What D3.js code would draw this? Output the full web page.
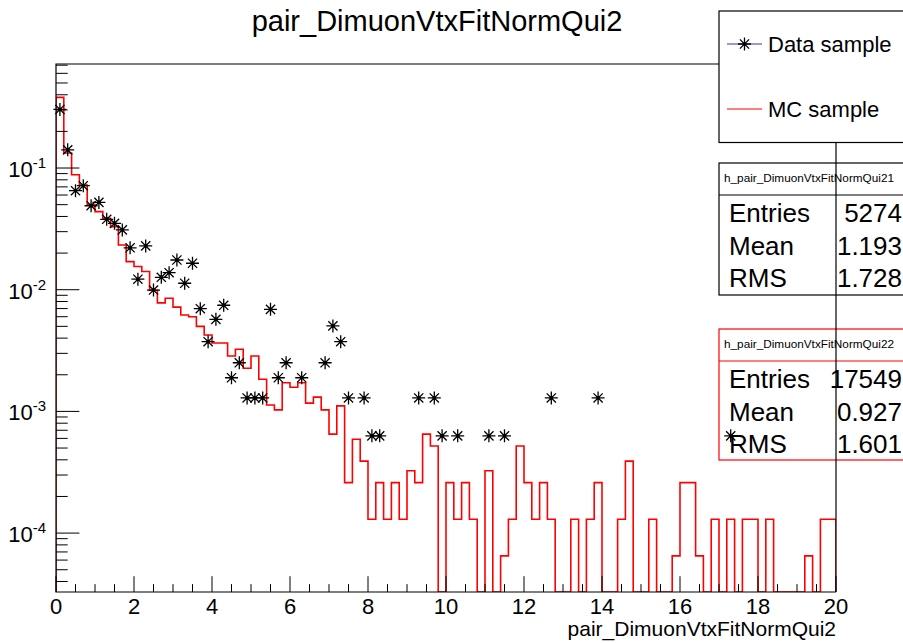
<!DOCTYPE html>
<html>
<meta charset="utf-8">
<head>
<script src="https://cdnjs.cloudflare.com/ajax/libs/d3/7.8.5/d3.min.js"></script>
</head>
<style>
body { margin: 0; background: #fff; }
svg text { font-family: "Liberation Sans", Arial, sans-serif; fill: #000; }
.frame { fill: none; stroke: #000; stroke-width: 1.2px; }
.tick line { stroke: #000; stroke-width: 1px; }
</style>
<body>
<svg id="canvas" width="903" height="643"></svg>
<script>
// histogram name / axis title
const histName = "pair_DimuonVtxFitNormQui2";
const xDomain = [0, 20];
const binWidth = 0.2;

// MC sample, 100 bins of 0.2 (normalised)
const mcValues = [
  0.381, 0.133, 0.088, 0.0725, 0.050, 0.0438, 0.0386, 0.033, 0.0233, 0.017,
  0.0155, 0.0141, 0.0099, 0.0078, 0.0085, 0.0072, 0.0062, 0.0060, 0.0050, 0.00425,
  0.00365, 0.00365, 0.00285, 0.00324, 0.00226, 0.00285, 0.00184, 0.00113, 0.00103, 0.00172,
  0.00158, 0.00172, 0.00117, 0.00131, 0.00103, 0.00065, 0.00111, 0.00026, 0.00059, 0.00039,
  0.00013, 0.00026, 0.00013, 0.00026, 0.00013, 0.000325, 0.00026, 0.00065, 0.00052, 0,
  0.00026, 0.00013, 0.00026, 0.00013, 0, 0.000325, 0, 0.000065, 0.00013, 0.00052,
  0.00026, 0.00013, 0.00026, 0.00013, 0, 0, 0.00013, 0, 0.00013, 0.00026,
  0, 0, 0.00013, 0.00039, 0, 0, 0.00013, 0, 0, 0.000065,
  0.00026, 0.00026, 0.000065, 0, 0.00013, 0, 0.00013, 0, 0.00013, 0.00013,
  0, 0.00013, 0, 0, 0, 0, 0.000065, 0, 0.00013, 0.00013
];

// data sample, non-empty bins only (bin centre, value)
const dataCenters = [
  0.1, 0.3, 0.5, 0.7, 0.9, 1.1, 1.3, 1.5, 1.7, 1.9,
  2.1, 2.3, 2.5, 2.7, 2.9, 3.1, 3.3, 3.5, 3.7, 3.9,
  4.1, 4.3, 4.5, 4.7, 4.9, 5.1, 5.3, 5.5, 5.7, 5.9,
  6.3, 6.9, 7.1, 7.3, 7.5, 7.9, 8.1, 8.3, 9.3, 9.7,
  9.9, 10.3, 11.1, 11.5, 12.7, 13.9, 17.3
];
const dataValues = [
  0.303, 0.141, 0.0651, 0.0716, 0.049, 0.0522, 0.0379, 0.0351, 0.031, 0.0221,
  0.0122, 0.0229, 0.00994, 0.01265, 0.0138, 0.01755, 0.0113, 0.0165, 0.00698, 0.00374,
  0.00571, 0.00745, 0.00189, 0.00251, 0.00129, 0.00129, 0.00129, 0.0069, 0.00189, 0.00251,
  0.00189, 0.00251, 0.00504, 0.00374, 0.00129, 0.00129, 0.00063, 0.00063, 0.00129, 0.00129,
  0.00063, 0.00063, 0.00063, 0.00063, 0.00129, 0.00129, 0.00063
];

const xTicks = d3.range(0, 21, 2);
const yDecades = [1e-1, 1e-2, 1e-3, 1e-4];
const yExponents = ["-1", "-2", "-3", "-4"];
const legendLabels = ["Data sample", "MC sample"];
const statLabels = ["Entries", "Mean", "RMS"];
const statsDataName = "h_pair_DimuonVtxFitNormQui21";
const statsDataValues = ["5274", "1.193", "1.728"];
const statsMCName = "h_pair_DimuonVtxFitNormQui22";
const statsMCValues = ["17549", "0.927", "1.601"];

// frame
const fLeft = 56, fRight = 836, fTop = 64, fBottom = 592;
const yMin = 3.28e-5, yMax = 0.716;

const svg = d3.select('#canvas');
const x = d3.scaleLinear().domain(xDomain).range([fLeft, fRight]);
const y = d3.scaleLog().domain([yMin, yMax]).range([fBottom, fTop]);

svg.append('defs').append('clipPath').attr('id', 'plotclip')
   .append('rect').attr('x', fLeft).attr('y', fTop)
   .attr('width', fRight - fLeft).attr('height', fBottom - fTop);

// title
svg.append('text').text(histName)
   .attr('x', 437).attr('y', 31)
   .attr('text-anchor', 'middle')
   .style('font-size', '29px');

// MC step histogram
const mcPoints = [[x(0), fBottom]];
mcValues.forEach((v, i) => {
  const yy = y(Math.max(v, yMin));
  mcPoints.push([x(i * binWidth), yy]);
  mcPoints.push([x((i + 1) * binWidth), yy]);
});
mcPoints.push([x(xDomain[1]), fBottom]);
svg.append('path')
   .attr('d', d3.line()(mcPoints))
   .attr('clip-path', 'url(#plotclip)')
   .attr('fill', 'none')
   .attr('stroke', '#ff0000')
   .attr('stroke-width', 1.6);

// axes (ticks point into the frame, ROOT style)
const xMinor = d3.range(0, 20.01, 0.5).filter(d => d % 2 !== 0);
const xAx = svg.append('g').attr('class', 'tick');
xAx.selectAll('.maj').data(xTicks).enter().append('line')
   .attr('x1', d => x(d)).attr('x2', d => x(d))
   .attr('y1', fBottom).attr('y2', fBottom - 15.8);
xAx.selectAll('.min').data(xMinor).enter().append('line')
   .attr('x1', d => x(d)).attr('x2', d => x(d))
   .attr('y1', fBottom).attr('y2', fBottom - 7.9);
xAx.selectAll('text').data(xTicks).enter().append('text')
   .text(d => d)
   .attr('x', d => x(d)).attr('y', 614)
   .attr('text-anchor', 'middle')
   .style('font-size', '22px');

svg.append('text').text(histName)
   .attr('x', fRight).attr('y', 636)
   .attr('text-anchor', 'end')
   .style('font-size', '21px');

const yMinor = [];
[1e-5, 1e-4, 1e-3, 1e-2, 1e-1].forEach(d => {
  for (let k = 2; k <= 9; k++) {
    const v = d * k;
    if (v >= yMin && v <= yMax) yMinor.push(v);
  }
});
const yAx = svg.append('g').attr('class', 'tick');
yAx.selectAll('.maj').data(yDecades).enter().append('line')
   .attr('x1', fLeft).attr('x2', fLeft + 23.4)
   .attr('y1', d => y(d)).attr('y2', d => y(d));
yAx.selectAll('.min').data(yMinor).enter().append('line')
   .attr('x1', fLeft).attr('x2', fLeft + 11.7)
   .attr('y1', d => y(d)).attr('y2', d => y(d));
const yLab = yAx.selectAll('text').data(yDecades).enter().append('text')
   .attr('x', 46).attr('y', d => y(d) + 9)
   .attr('text-anchor', 'end')
   .style('font-size', '22px')
   .text('10');
yLab.append('tspan').attr('dy', -9).style('font-size', '15px')
   .text((d, i) => yExponents[i]);

// frame box (right edge drawn later, over the stat boxes)
svg.append('path').attr('class', 'frame')
   .attr('d', `M${fRight},${fBottom}H${fLeft}V${fTop}H${fRight}`);

// stat boxes
function statBox(y0, h, color, name, values) {
  const g = svg.append('g');
  g.append('rect').attr('x', 719).attr('y', y0).attr('width', 200).attr('height', h)
   .attr('fill', '#fff').attr('stroke', color).attr('stroke-width', 1.2);
  g.append('line').attr('x1', 719).attr('x2', 903).attr('y1', y0 + 32).attr('y2', y0 + 32)
   .attr('stroke', color).attr('stroke-width', 1.2);
  g.append('text').text(name).attr('x', 724).attr('y', y0 + 19)
   .attr('textLength', 170).attr('lengthAdjust', 'spacingAndGlyphs')
   .style('font-size', '10px');
  statLabels.forEach((s, i) => {
    g.append('text').text(s).attr('x', 729).attr('y', y0 + 59 + i * 32.5)
     .style('font-size', '26px');
    g.append('text').text(values[i]).attr('x', 902).attr('y', y0 + 59 + i * 32.5)
     .attr('text-anchor', 'end').style('font-size', '26px');
  });
}
statBox(163, 132, '#000', statsDataName, statsDataValues);
statBox(329, 131, '#ff0000', statsMCName, statsMCValues);

// data markers: ROOT marker style 3 (asterisk)
function star(g, cx, cy, r) {
  const d = r * Math.SQRT1_2;
  g.append('path')
   .attr('d', `M${cx - r},${cy}H${cx + r}M${cx},${cy - r}V${cy + r}` +
              `M${cx - d},${cy - d}L${cx + d},${cy + d}M${cx - d},${cy + d}L${cx + d},${cy - d}`)
   .attr('stroke', '#000').attr('stroke-width', 1.3).attr('fill', 'none');
  g.append('circle').attr('cx', cx).attr('cy', cy).attr('r', 1.8).attr('fill', '#000');
}
const markers = svg.append('g');
dataCenters.forEach((c, i) => star(markers, x(c), y(dataValues[i]), 6.5));

// right frame edge
svg.append('line').attr('x1', fRight).attr('x2', fRight).attr('y1', fTop).attr('y2', fBottom)
   .attr('stroke', '#000').attr('stroke-width', 1.2);

// legend
const leg = svg.append('g');
leg.append('rect').attr('x', 719).attr('y', 11).attr('width', 200).attr('height', 131.5)
   .attr('fill', '#fff').attr('stroke', '#000').attr('stroke-width', 1.2);
leg.append('line').attr('x1', 727).attr('x2', 762).attr('y1', 44).attr('y2', 44)
   .attr('stroke', '#3333cc').attr('stroke-width', 1.2);
star(leg, 744.5, 44, 6.5);
leg.append('line').attr('x1', 727).attr('x2', 762).attr('y1', 109).attr('y2', 109)
   .attr('stroke', '#ff0000').attr('stroke-width', 1.2);
leg.selectAll('text').data(legendLabels).enter().append('text')
   .text(d => d)
   .attr('x', 768).attr('y', (d, i) => 52 + i * 65)
   .style('font-size', '22px');
</script>
</body>
</html>
